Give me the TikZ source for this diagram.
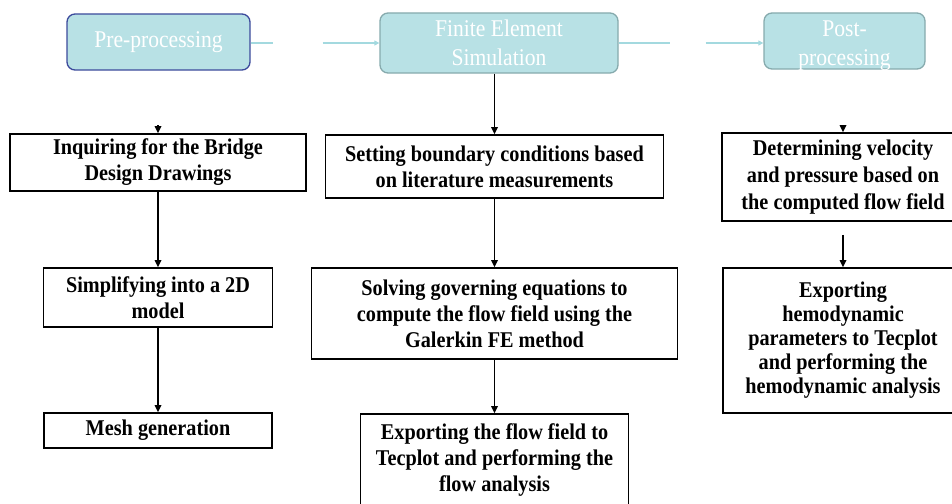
\documentclass[tikz,border=0pt]{standalone}
\usepackage{fontspec}
\setmainfont{Liberation Serif}
\newfontfamily\narrowserif{Liberation Serif}[FakeStretch=0.9]
\usetikzlibrary{arrows.meta, positioning}

\definecolor{boxcyan}{HTML}{B8E1E5}
\definecolor{preblue}{HTML}{3C4A9C}
\definecolor{tealgray}{HTML}{86AAAD}
\definecolor{flowcyan}{HTML}{A3D9DF}

\begin{document}
\begin{tikzpicture}[x=1pt,y=-1pt,>={Triangle[length=7pt,width=6.5pt]},auto,
  stage node/.style={rounded corners=8pt,draw=tealgray,fill=boxcyan,text=white,
    line width=1.3pt,align=center,inner sep=0pt,font=\narrowserif\fontsize{24}{29}\selectfont},
  task node/.style={draw,line width=1.6pt,align=center,inner sep=0pt,
    font=\narrowserif\bfseries\fontsize{22.5}{26}\selectfont},
  flow/.style={flowcyan,line width=1.5pt,-{Triangle[length=5pt,width=5pt]}}]

    \useasboundingbox (0,0) rectangle (952,503);

    % top row
    \node[stage node,draw=preblue,minimum width=183pt,minimum height=56pt] (1) at (158.5,42) {Pre-processing};
    \node[stage node,minimum width=238pt,minimum height=60pt] (2) at (499,43) {Finite Element\\Simulation};
    \node[stage node,minimum width=161pt,minimum height=56pt] (3) at (844.5,41) {\rule{0pt}{20pt}Post-\\\smash{processing}};

    % pre-processing column
    \node[task node,minimum width=296pt,minimum height=57pt] (4) at (158,162.5) {Inquiring for the Bridge\\Design Drawings};
    \node[task node,minimum width=229pt,minimum height=59pt] (5) [below of=4,node distance=135pt] {Simplifying into a 2D\\model};
    \node[task node,minimum width=228pt,minimum height=35pt] (6) [below of=5,node distance=133pt] {Mesh generation};

    % simulation column
    \node[task node,minimum width=338pt,minimum height=63pt] (7) at (494.5,166.5) {Setting boundary conditions based\\on literature measurements};
    \node[task node,minimum width=366pt,minimum height=91pt] (8) [below of=7,node distance=147pt] {Solving governing equations to\\compute the flow field using the\\Galerkin FE method};
    \node[task node,minimum width=268pt,minimum height=92pt] (9) [below of=8,node distance=146.5pt] {Exporting the flow field to\\Tecplot and performing the\\flow analysis};

    % post-processing column
    \node[task node,minimum width=242pt,minimum height=88pt,font=\narrowserif\bfseries\fontsize{22.5}{27}\selectfont] (10) at (843,177) {Determining velocity\\and pressure based on\\the computed flow field};
    \node[task node,minimum width=240pt,minimum height=145pt,font=\narrowserif\bfseries\fontsize{22.5}{24}\selectfont] (11) [below of=10,node distance=163.5pt] {Exporting\\hemodynamic\\parameters to Tecplot\\and performing the\\hemodynamic analysis};

    \coordinate (a) at (158,125);
    \coordinate (b) at (843,125);

    \path (1.east |- 2.west) edge [flow,dash pattern=on 22pt off 50pt on 80pt] (2.west);
    \path (2.east) edge [flow,dash pattern=on 51pt off 36pt on 80pt] (3.west |- 2.east);

    \path (a) edge [->,line width=1.6pt] (4);
    \path (4) edge [->,line width=1.6pt] (5);
    \path (5) edge [->,line width=1.6pt] (6);
    \path (7.north |- 2.south) edge [->,line width=1.6pt] (7.north);
    \path (7) edge [->,line width=1.6pt] (8);
    \path (8) edge [->,line width=1.6pt] (9);
    \path (b) edge [->,line width=1.6pt] (10);
    \path (10) edge [->,line width=1.6pt,shorten <=13pt] (11);

\end{tikzpicture}
\end{document}
